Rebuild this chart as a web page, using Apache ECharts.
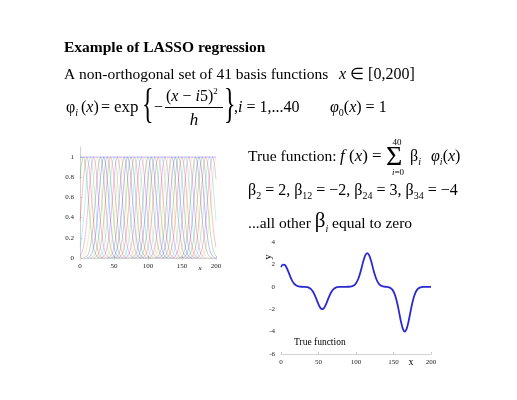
<!DOCTYPE html>
<html><head><meta charset="utf-8">
<script src="https://cdn.jsdelivr.net/npm/echarts@6/dist/echarts.min.js"></script>
<style>html,body{margin:0;padding:0;background:#fff}#c{width:517px;height:400px}</style>
</head><body><div id="c"></div><script>
// ---- data ----
const basisCenters = [5,10,15,20,25,30,35,40,45,50,55,60,65,70,75,80,85,90,95,100,
  105,110,115,120,125,130,135,140,145,150,155,160,165,170,175,180,185,190,195,200];
const bumpOffsets = [-25,-22.5,-20,-17.5,-15,-12.5,-10,-7.5,-5,-2.5,0,2.5,5,7.5,10,12.5,15,17.5,20,22.5,25];
const bumpShape   = [0.0019,0.0063,0.0183,0.0468,0.105,0.210,0.368,0.570,0.779,0.939,1,
  0.939,0.779,0.570,0.368,0.210,0.105,0.0468,0.0183,0.0063,0.0019];
const phi0X = [0, 200];
const phi0Y = [1, 1];
const trueX = [0,2.5,5,7.5,10,12.5,15,17.5,20,22.5,25,27.5,30,32.5,35,37.5,40,42.5,45,47.5,
  50,52.5,55,57.5,60,62.5,65,67.5,70,72.5,75,77.5,80,82.5,85,87.5,90,92.5,95,97.5,
  100,102.5,105,107.5,110,112.5,115,117.5,120,122.5,125,127.5,130,132.5,135,137.5,140,142.5,145,147.5,
  150,152.5,155,157.5,160,162.5,165,167.5,170,172.5,175,177.5,180,182.5,185,187.5,190,192.5,195,197.5,200];
const trueY = [1.77,1.98,1.96,1.70,1.31,0.89,0.53,0.28,0.13,0.054,0.019,0.005,-0.002,-0.01,-0.037,-0.094,-0.21,-0.42,-0.74,-1.14,
  -1.56,-1.88,-2.00,-1.88,-1.56,-1.14,-0.74,-0.42,-0.21,-0.094,-0.037,-0.013,-0.004,-0.001,0,0.002,0.006,0.019,0.055,0.14,
  0.32,0.63,1.10,1.71,2.34,2.82,3.00,2.82,2.34,1.71,1.10,0.63,0.32,0.14,0.055,0.017,-0.002,-0.024,-0.073,-0.19,
  -0.42,-0.84,-1.47,-2.28,-3.12,-3.76,-4.00,-3.76,-3.12,-2.28,-1.47,-0.84,-0.42,-0.19,-0.073,-0.025,-0.008,-0.002,0,0,0];
const basisColors = ['#0000ff','#008000','#ff0000','#00bfbf','#bf00bf','#bfbf00','#404040'];

// ---- text layout helpers ----
const FF = '"Liberation Serif","Times New Roman",serif';
const mctx = document.createElement('canvas').getContext('2d');
function fontStr(p){ return (p.i?'italic ':'')+(p.b?'bold ':'')+p.s+'px '+FF; }
function measure(t,p){ mctx.font=fontStr(p); return mctx.measureText(t).width; }
const G = [];
function txt(x, base, t, p, align){
  G.push({type:'text', x:x, y:base - 0.3375*p.s, silent:true, z:10,
    style:{text:t, font:fontStr(p), fill:'#000', textAlign:align||'left', textVerticalAlign:'middle'}});
}
function seq(x, base, items){
  for (const it of items){ const t=it[0], p=it[1], dy=it[2]||0; txt(x, base+dy, t, p); x += measure(t,p); }
  return x;
}
function brace(x, cy, ch){
  G.push({type:'text', x:x, y:cy, scaleY:1.75, silent:true, z:10,
    style:{text:ch, font:'24px '+FF, fill:'#000', textAlign:'left', textVerticalAlign:'middle'}});
}
const R = {s:15.5}, I = {s:15.5,i:1}, SB = {s:10}, SBI = {s:10,i:1};
const F = {s:16}, FI = {s:16,i:1}, FS = {s:10,i:1};

// title
seq(64, 53, [['Example of LASSO regression',{s:15.5,b:1}]]);
// line 2
seq(64, 80, [['A non-orthogonal set of 41 basis functions',R]]);
seq(339, 80, [['x',{s:16,i:1}],[' \u2208 [0,200]',{s:16}]]);
// formula line
seq(66, 113, [['\u03c6',F],['i',FS,4]]);
seq(81, 113, [['(',F],['x',FI],[')',F]]);
txt(101, 113, '=', F);
txt(114, 113, 'exp', {s:17});
brace(142, 106, '{');
txt(154, 113, '\u2212', F);
let nx = seq(166, 102, [['(',F],['x',FI],[' \u2212 ',F],['i',FI],['5)',F]]);
txt(nx, 95, '2', {s:9});
G.push({type:'line', shape:{x1:165,y1:107.5,x2:223,y2:107.5}, style:{stroke:'#000',lineWidth:1}, silent:true});
txt(194, 126, 'h', {s:17,i:1}, 'center');
brace(224, 106, '}');
seq(234, 113, [[',',F],['i',FI],[' = 1,...40',F]]);
seq(330, 113, [['\u03c6',{s:16,i:1}],['0',{s:10},4],['(',F],['x',FI],[') = 1',F]]);
// right text block
seq(248, 162, [['True function:',R]]);
seq(340, 162, [['f',{s:17,i:1}],[' (',{s:17}],['x',{s:17,i:1}],[') =',{s:17}]]);
txt(386, 167, '\u03a3', {s:28});
txt(397, 146, '40', {s:9}, 'center');
seq(392, 176, [['i',{s:9,i:1}],['=0',{s:9}]]);
seq(410, 162, [['\u03b2',{s:16}],['i',SBI,4]]);
seq(431, 162, [['\u03c6',{s:16,i:1}],['i',SBI,4],['(',{s:16}],['x',{s:16,i:1}],[')',{s:16}]]);
const RB = {s:16};
seq(248, 196, [['\u03b2',RB],['2',SB,4],[' = 2, ',RB],['\u03b2',RB],['12',SB,4],[' = \u22122, ',RB],
  ['\u03b2',RB],['24',SB,4],[' = 3, ',RB],['\u03b2',RB],['34',SB,4],[' = \u22124',RB]]);
seq(248, 229, [['...all other ',R],['\u03b2',{s:21}],['i',SBI,4],[' equal to zero',R]]);
// small axis texts
txt(200, 271, 'x', {s:7,i:1}, 'center');
txt(411, 366, 'x', {s:10}, 'center');
G.push({type:'text', x:268, y:257, rotation:Math.PI/2, silent:true, z:10,
  style:{text:'y', font:'10px '+FF, fill:'#000', textAlign:'center', textVerticalAlign:'middle'}});
txt(294, 346, 'True function', {s:9.5});

// ---- series ----
const series = [];
series.push({type:'line', xAxisIndex:0, yAxisIndex:0, data: phi0X.map((v,k)=>[v,phi0Y[k]]),
  showSymbol:false, lineStyle:{width:0.8, color:basisColors[0], opacity:0.35}, silent:true});
basisCenters.forEach((c, k) => {
  const d = [];
  bumpOffsets.forEach((o, j) => { const xx = c + o; if (xx >= 0 && xx <= 200) d.push([xx, bumpShape[j]]); });
  series.push({type:'line', xAxisIndex:0, yAxisIndex:0, data:d, showSymbol:false, smooth:0.3,
    lineStyle:{width:0.8, color:basisColors[(k+1)%7], opacity:0.32}, silent:true});
});
series.push({type:'line', xAxisIndex:1, yAxisIndex:1, data: trueX.map((v,k)=>[v,trueY[k]]),
  showSymbol:false, smooth:0.3, lineStyle:{width:1.8, color:'#2a2ad2'}, silent:true});

const axLbl = {fontSize:7, fontFamily:FF, color:'#222'};
const axLine = {show:true, onZero:false, lineStyle:{color:'#c8c8c8', width:0.8}};
const axTick = {show:true, inside:true, length:2, lineStyle:{color:'#c8c8c8'}};
const chart = echarts.init(document.getElementById('c'), null, {renderer:'canvas'});
chart.setOption({
  animation:false, backgroundColor:'#fff',
  grid:[{left:80, top:147, width:136, height:111}, {left:281, top:242, width:150, height:112}],
  xAxis:[
    {gridIndex:0, type:'value', min:0, max:200, interval:50, axisLine:axLine, axisTick:axTick,
     splitLine:{show:false}, axisLabel:Object.assign({margin:5}, axLbl)},
    {gridIndex:1, type:'value', min:0, max:200, interval:50, axisLine:axLine, axisTick:axTick,
     splitLine:{show:false}, axisLabel:Object.assign({margin:5}, axLbl)},
    {gridIndex:0, type:'value', position:'top', min:0, max:200, interval:50, axisLine:{show:false},
     axisTick:{show:true, inside:true, length:2, lineStyle:{color:'#d8d8d8'}}, axisLabel:{show:false}, splitLine:{show:false}}
  ],
  yAxis:[
    {gridIndex:0, type:'value', min:0, max:1.1, interval:0.2, axisLine:axLine, axisTick:axTick,
     splitLine:{show:false}, axisLabel:Object.assign({margin:6, showMaxLabel:false}, axLbl)},
    {gridIndex:1, type:'value', min:-6, max:4, interval:2, axisLine:{show:false}, axisTick:{show:false},
     splitLine:{show:false}, axisLabel:Object.assign({margin:6}, axLbl)}
  ],
  series: series,
  graphic: G
});
</script></body></html>
